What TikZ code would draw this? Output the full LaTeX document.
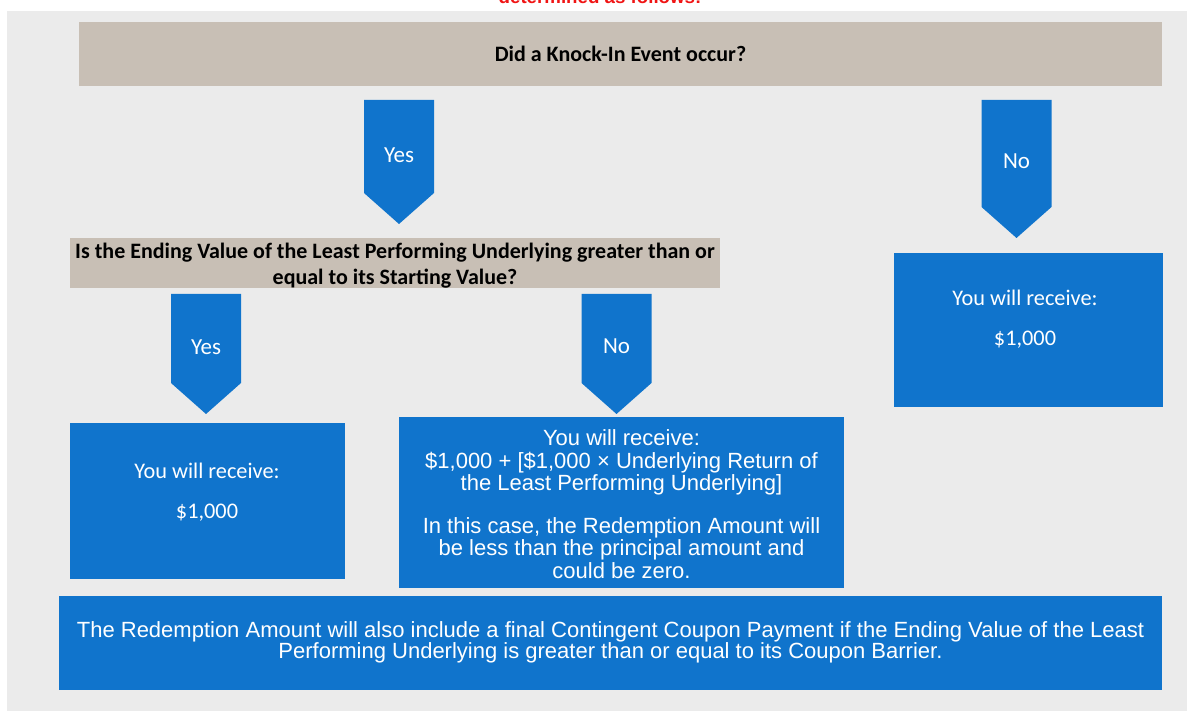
\documentclass[tikz,border=0pt]{standalone}
\usepackage{fontspec}
\setmainfont{Carlito}
\newfontfamily\arialfont{Liberation Sans}
\definecolor{panelgray}{RGB}{235,235,235}
\definecolor{questiontan}{RGB}{200,191,181}
\definecolor{boxblue}{RGB}{16,116,204}
\definecolor{notered}{RGB}{240,20,20}
\tikzset{question box/.style={fill=questiontan, inner sep=0pt},
	question text/.style=
	{inner sep=0pt,
		align=center,
		font=\bfseries\fontsize{22}{26}\selectfont},
	answer box/.style={fill=boxblue, inner sep=0pt},
	answer text/.style={text=white, align=center, inner sep=0pt},
}

\begin{document}
\begin{tikzpicture}[x=1pt,y=-1pt]
			\clip (0,0) rectangle (1187,711);
			\fill[white] (0,0) rectangle (1187,711);
			\fill[panelgray] (7,11) rectangle (1187,711);
			
			\node[notered, font=\arialfont\bfseries\fontsize{18.7}{20}\selectfont, anchor=base, inner sep=0pt] (heading) at (600,4) {determined as follows:};
			
			\node[question box, minimum width=1083pt, minimum height=64pt] (knockin) at (620.5,54) {};
			\node[question text, anchor=base] (knockin-text) at (620.5,62) {Did a Knock-In Event occur?};
			\node[question box, minimum width=650pt, minimum height=50pt] (ending) at (395,263) {};
			\node[question text, anchor=base] (ending-text) at (395,285)
				{Is the Ending Value of the Least Performing Underlying greater than or\\equal to its Starting Value?};
			
			\foreach \cx/\ty/\by/\tip/\ly/\lbl/\nm in {399/100/193/224/155/Yes/yesa, 1016.5/100/207/238/161/No/noa,
				206/294/383/414/347/Yes/yesb, 616.5/294/383/414/346/No/nob}{
				\fill[boxblue] (\cx-35,\ty) -- (\cx+35,\ty) -- (\cx+35,\by) -- (\cx,\tip) -- (\cx-35,\by) -- cycle;
				\node[answer text, font=\fontsize{23}{26}\selectfont] (\nm) at (\cx,\ly) {\lbl};}
			
			\node[answer box, minimum width=269pt, minimum height=154pt] (noknock) at (1028.5,330) {};
			\node[answer box, minimum width=275pt, minimum height=156pt] (above) at (207.5,501) {};
			\node[answer box, minimum width=445pt, minimum height=171pt] (below) at (621.5,502.5) {};
			\node[answer box, minimum width=1103pt, minimum height=94pt] (coupon) at (610.5,643) {};
			
			\foreach \bx/\cx/\ya/\yb in {noknock/1025/298/340, above/207/471/513}{
				\node[answer text, font=\fontsize{22.3}{26}\selectfont] (\bx-a) at (\cx,\ya) {You will receive:};
				\node[answer text, font=\fontsize{22.3}{26}\selectfont] (\bx-b) at (\cx,\yb) {\$1,000};}
			
			\node[answer text, font=\arialfont\fontsize{22}{22.5}\selectfont, anchor=base] (below-text) at (621.5,578)
				{You will receive:\\\$1,000 + [\$1,000 × Underlying Return of\\the Least Performing Underlying]\\[20pt]
				In this case, the Redemption Amount will\\be less than the principal amount and\\could be zero.};
			\node[answer text, font=\arialfont\fontsize{22}{20}\selectfont, anchor=base] (coupon-text) at (610.5,658)
				{The Redemption Amount will also include a final Contingent Coupon Payment if the Ending Value of the Least\\[-1pt]
				Performing Underlying is greater than or equal to its Coupon Barrier.};
		\end{tikzpicture}
\end{document}
